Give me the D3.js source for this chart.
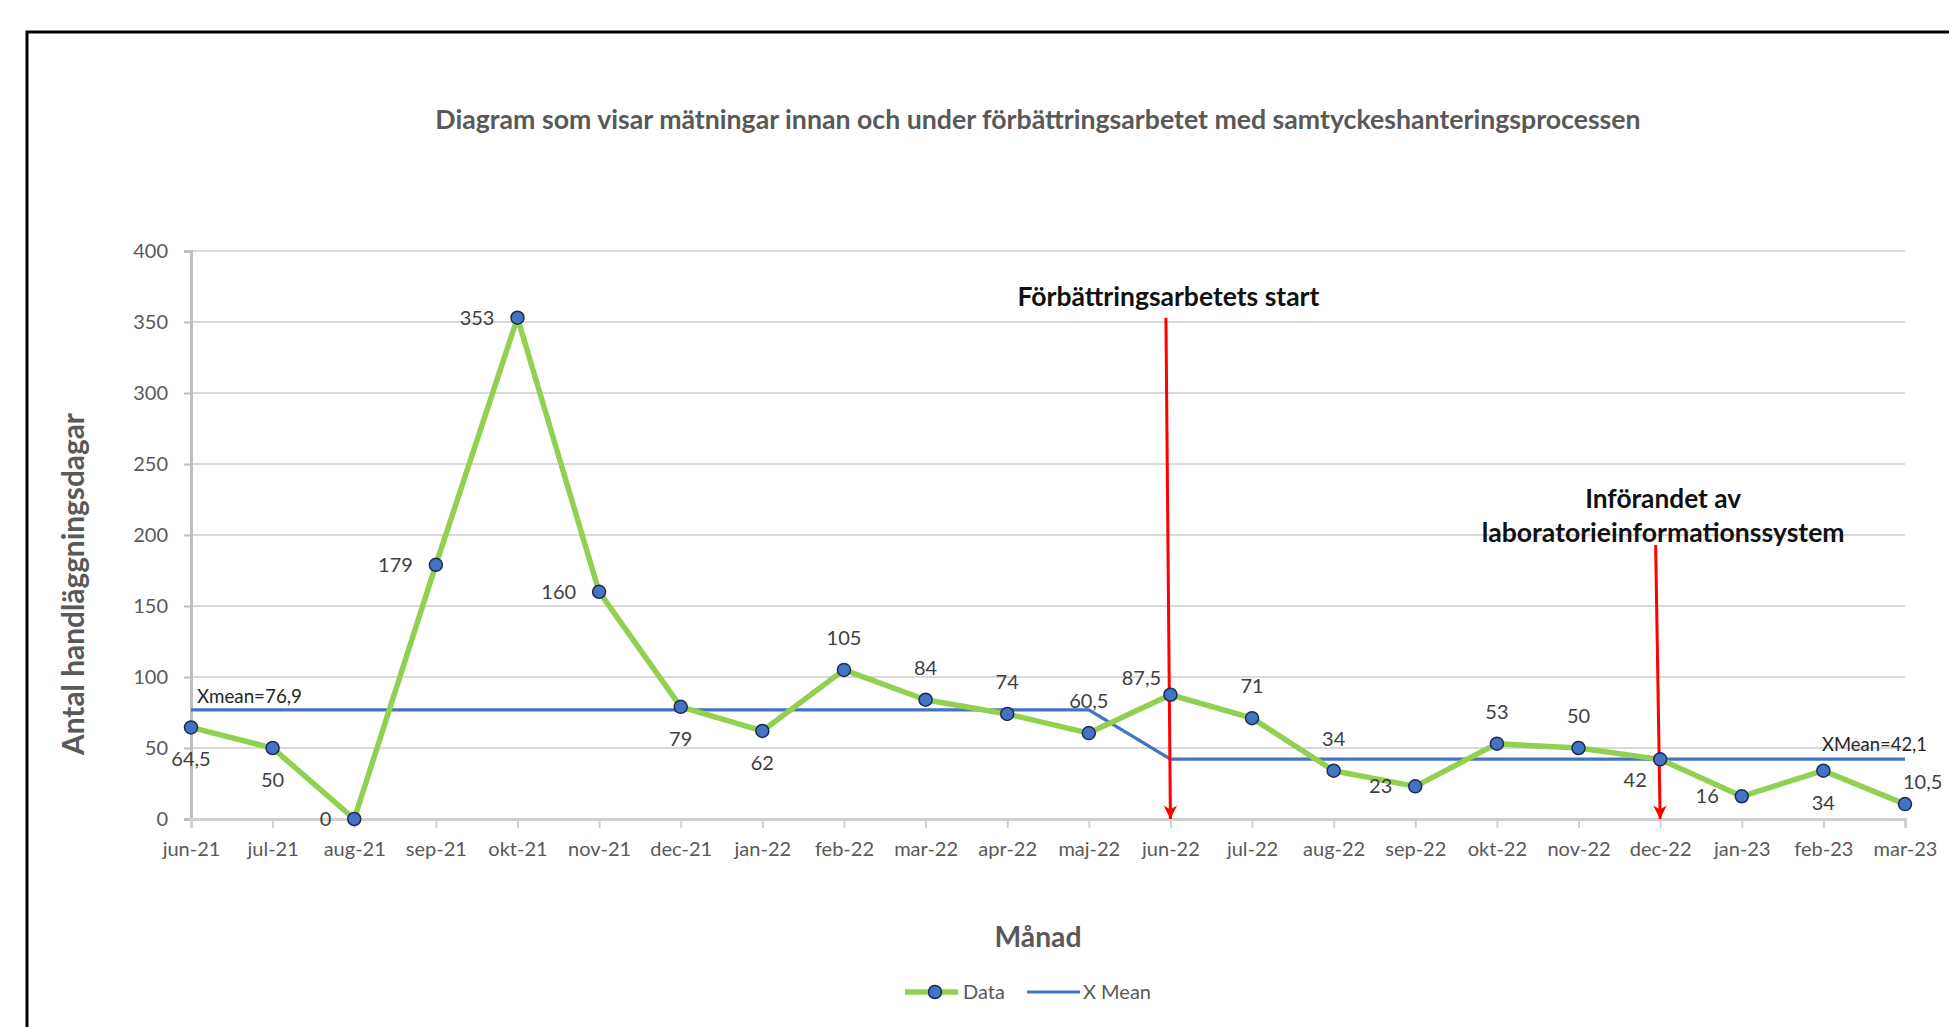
<!DOCTYPE html>
<html><head><meta charset="utf-8">
<script src="https://cdn.jsdelivr.net/npm/d3@7"></script>
<style>
html,body{margin:0;padding:0;background:#fff;overflow:hidden}
text{font-family:Lato,"Open Sans",sans-serif}
</style></head>
<body><svg id="chart" width="1949" height="1027"></svg>
<script>
// ---- data ----
const categories = ["jun-21","jul-21","aug-21","sep-21","okt-21","nov-21","dec-21","jan-22","feb-22","mar-22","apr-22","maj-22","jun-22","jul-22","aug-22","sep-22","okt-22","nov-22","dec-22","jan-23","feb-23","mar-23"];
const dataValues = [64.5,50,0,179,353,160,79,62,105,84,74,60.5,87.5,71,34,23,53,50,42,16,34,10.5];
const meanValues = [76.9,76.9,76.9,76.9,76.9,76.9,76.9,76.9,76.9,76.9,76.9,76.9,42.1,42.1,42.1,42.1,42.1,42.1,42.1,42.1,42.1,42.1];
const labelPos = ["b","b","l","l","l","l","b","b","t","t","t","t","tl","t","t","l","t","t","bl","l","b","tr"];
const yTicks = [0,50,100,150,200,250,300,350,400];
const titleText = "Diagram som visar mätningar innan och under förbättringsarbetet med samtyckeshanteringsprocessen";
const yTitle = "Antal handläggningsdagar";
const xTitle = "Månad";
const meanLabels = ["Xmean=76,9","XMean=42,1"];
const seriesNames = ["Data","X Mean"];
const annotations = [
  {cat:"jun-22", top:353, lines:["Förbättringsarbetets start"]},
  {cat:"dec-22", top:193, lines:["Införandet av","laboratorieinformationssystem"]}
];

// ---- layout ----
const svg = d3.select("#chart");
const L = 191, R = 1905, T = 251, B = 819;
const x = d3.scalePoint().domain(categories).range([L, R]).padding(0);
const y = d3.scaleLinear().domain([0, 400]).range([B, T]);
const fmt = v => String(v).replace(".", ",");

function fit(sel, w){
  sel.each(function(){
    const n = d3.select(this);
    const fs = parseFloat(n.style("font-size"));
    const len = this.getComputedTextLength();
    n.style("font-size", (fs * w / len) + "px");
  });
}

// frame
svg.append("rect").attr("x",27).attr("y",32).attr("width",2000).attr("height",1100)
  .attr("fill","none").attr("stroke","#000").attr("stroke-width",3);

// title
svg.append("text").attr("x",1038).attr("y",129).attr("text-anchor","middle")
  .style("font-size","24px").style("font-weight","700").attr("fill","#595959")
  .text(titleText).call(fit, 1206);

// gridlines
svg.append("g").selectAll("line").data(yTicks.filter(d=>d>0)).join("line")
  .attr("x1",L).attr("x2",R).attr("y1",d=>y(d)).attr("y2",d=>y(d))
  .attr("stroke","#d9d9d9").attr("stroke-width",2);

// y axis
const yAx = svg.append("g").attr("transform",`translate(${L},0)`)
  .call(d3.axisLeft(y).tickValues(yTicks).tickSize(7).tickPadding(16).tickFormat(d=>d));
yAx.select(".domain").attr("stroke","#bfbfbf").attr("stroke-width",3);
yAx.selectAll(".tick line").attr("stroke","#bfbfbf").attr("stroke-width",2);
yAx.selectAll("text").attr("fill","#595959").style("font-size","20px").style("font-family","Lato");

// x axis
const xAx = svg.append("g").attr("transform",`translate(0,${B})`)
  .call(d3.axisBottom(x).tickSize(9).tickPadding(14));
xAx.select(".domain").attr("stroke","#d0d0d0").attr("stroke-width",3);
xAx.selectAll(".tick line").attr("stroke","#d0d0d0").attr("stroke-width",2);
xAx.selectAll("text").attr("fill","#595959").style("font-size","20px").style("font-family","Lato");

// axis titles
svg.append("text").attr("transform","translate(84,584) rotate(-90)").attr("text-anchor","middle")
  .style("font-size","26px").style("font-weight","700").attr("fill","#595959")
  .text(yTitle).call(fit, 342);
svg.append("text").attr("x",1038).attr("y",947).attr("text-anchor","middle")
  .style("font-size","26px").style("font-weight","700").attr("fill","#595959")
  .text(xTitle).call(fit, 87);

// mean line
const line = d3.line().x((d,i)=>x(categories[i])).y(d=>y(d));
svg.append("path").datum(meanValues).attr("d",line)
  .attr("fill","none").attr("stroke","#4472C4").attr("stroke-width",3.2);

// data line
svg.append("path").datum(dataValues).attr("d",line)
  .attr("fill","none").attr("stroke","#92D050").attr("stroke-width",5.5).attr("stroke-linejoin","round");

// arrows
svg.append("defs").append("marker").attr("id","ah").attr("viewBox","0 0 10 10")
  .attr("refX",10).attr("refY",5).attr("markerWidth",4.5).attr("markerHeight",5)
  .attr("markerUnits","strokeWidth").attr("orient","auto")
  .append("path").attr("d","M0,0 L10,5 L0,10 L3,5 Z").attr("fill","#ff0000");
annotations.forEach(a=>{
  const xc = x(a.cat);
  svg.append("line").attr("x1",xc-4.5).attr("y1",y(a.top)).attr("x2",xc).attr("y2",B)
    .attr("stroke","#ff0000").attr("stroke-width",3).attr("marker-end","url(#ah)");
});
// annotation texts
svg.append("text").attr("x",x("jun-22")-2).attr("y",306).attr("text-anchor","middle")
  .style("font-size","24px").style("font-weight","700").attr("fill","#111")
  .text(annotations[0].lines[0]).call(fit, 302);
svg.append("text").attr("x",x("dec-22")+3).attr("y",508).attr("text-anchor","middle")
  .style("font-size","24px").style("font-weight","700").attr("fill","#111")
  .text(annotations[1].lines[0]).call(fit, 156);
svg.append("text").attr("x",x("dec-22")+3).attr("y",542).attr("text-anchor","middle")
  .style("font-size","24px").style("font-weight","700").attr("fill","#111")
  .text(annotations[1].lines[1]).call(fit, 363);

// mean labels
svg.append("text").attr("x",x(categories[0])+6).attr("y",y(meanValues[0])-7)
  .style("font-size","18px").attr("fill","#262626").text(meanLabels[0]).call(fit,105);
svg.append("text").attr("x",x(categories[categories.length-1])+22).attr("y",y(meanValues[meanValues.length-1])-8)
  .attr("text-anchor","end").style("font-size","18px").attr("fill","#262626").text(meanLabels[1]).call(fit,105);

// markers
svg.append("g").selectAll("circle").data(dataValues).join("circle")
  .attr("cx",(d,i)=>x(categories[i])).attr("cy",d=>y(d)).attr("r",6.5)
  .attr("fill","#4472C4").attr("stroke","#1F2D50").attr("stroke-width",1.5);

// data labels
const off = {b:[0,32,"middle"], t:[0,-32,"middle"], l:[-23,0,"end"], tl:[-29,-17,"middle"], bl:[-25,21,"middle"], tr:[-2,-22,"start"]};
svg.append("g").selectAll("text").data(dataValues).join("text")
  .attr("x",(d,i)=>x(categories[i])+off[labelPos[i]][0])
  .attr("y",(d,i)=>y(d)+off[labelPos[i]][1])
  .attr("dy","0.35em")
  .attr("text-anchor",(d,i)=>off[labelPos[i]][2])
  .style("font-size","20px").attr("fill","#404040")
  .text(d=>fmt(d));

// legend
const lg = svg.append("g");
lg.append("line").attr("x1",905).attr("x2",958).attr("y1",992).attr("y2",992).attr("stroke","#92D050").attr("stroke-width",5.5);
lg.append("circle").attr("cx",935).attr("cy",992).attr("r",6.5).attr("fill","#4472C4").attr("stroke","#1F2D50").attr("stroke-width",1.5);
lg.append("text").attr("x",963).attr("y",999).style("font-size","20px").attr("fill","#595959").text(seriesNames[0]);
lg.append("line").attr("x1",1027).attr("x2",1080).attr("y1",992).attr("y2",992).attr("stroke","#4472C4").attr("stroke-width",3.2);
lg.append("text").attr("x",1083).attr("y",999).style("font-size","20px").attr("fill","#595959").text(seriesNames[1]);
</script></body></html>
